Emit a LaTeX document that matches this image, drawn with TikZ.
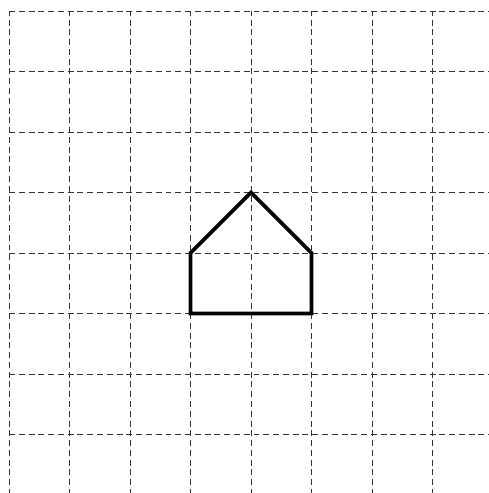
\documentclass[tikz,border=0pt]{standalone}
\begin{document}
\begin{tikzpicture}[x=1cm,y=1cm]
			\useasboundingbox (-0.149,0.033) rectangle (7.934,8.182);
			\clip (-0.149,0.033) rectangle (7.934,8.182);
			\foreach \x in {0,...,8}
			\draw[dash pattern=on 2.8pt off 1.8pt,line width=0.4pt,black!80] (\x,0)--(\x,8);
			\foreach \y in {0,...,8}
			\draw[dash pattern=on 2.8pt off 1.8pt,line width=0.4pt,black!80] (0,\y)--(8.5,\y);
			\draw[line width=1.8pt,line join=miter]	(3,3)--(5,3)--(5,4)--(4,5)--(3,4)--cycle;
			\end{tikzpicture}
\end{document}
